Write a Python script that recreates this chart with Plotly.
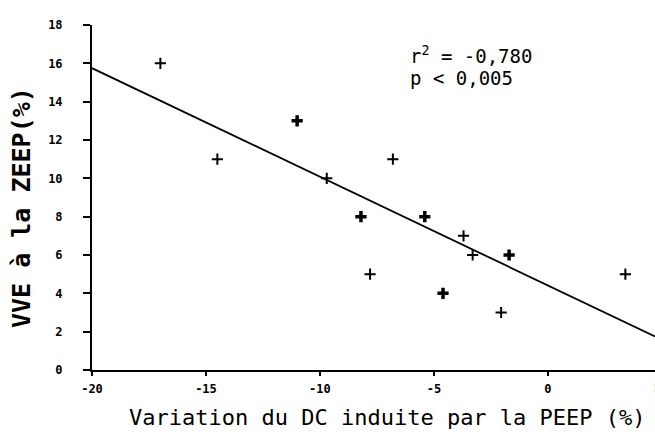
import plotly.graph_objects as go

# Data
x_points = [-17.0, -14.5, -9.7, -6.8, -3.7, -3.3, -7.8, -2.05, 3.4]
y_points = [16, 11, 10, 11, 7, 6, 5, 3, 5]
x_bold = [-11.0, -8.2, -5.4, -1.7, -4.6]
y_bold = [13, 8, 8, 6, 4]
fit_x = [-20, 4.7]
fit_y = [15.75, 1.75]
x_ticks = [-20, -15, -10, -5, 0]
y_ticks = [0, 2, 4, 6, 8, 10, 12, 14, 16, 18]

FONT = "DejaVu Sans Mono"

fig = go.Figure()
fig.add_trace(go.Scatter(x=fit_x, y=fit_y, mode="lines",
                         line=dict(color="black", width=1.8), hoverinfo="skip"))
fig.add_trace(go.Scatter(x=x_points, y=y_points, mode="markers",
                         marker=dict(symbol="cross-thin", size=8,
                                     line=dict(color="black", width=2))))
fig.add_trace(go.Scatter(x=x_bold, y=y_bold, mode="markers",
                         marker=dict(symbol="cross-thin", size=8,
                                     line=dict(color="black", width=3.5))))

fig.update_layout(
    width=655, height=437,
    margin=dict(l=92, r=0, t=25, b=67),
    paper_bgcolor="white", plot_bgcolor="white",
    showlegend=False,
    font=dict(family=FONT, color="black"),
    xaxis=dict(range=[-20, 4.7], tickvals=x_ticks, ticktext=[str(v) for v in x_ticks],
               showline=True, linecolor="black", linewidth=2, showgrid=False,
               zeroline=False, ticks="outside", ticklen=4, tickwidth=2,
               tickcolor="black", tickfont=dict(size=12, family=FONT, weight="bold"),
               ticklabelstandoff=3),
    yaxis=dict(range=[0, 18], tickvals=y_ticks, ticktext=[str(v) for v in y_ticks],
               showline=True, linecolor="black", linewidth=2, showgrid=False,
               zeroline=False, ticks="outside", ticklen=7, tickwidth=2,
               tickcolor="black", tickfont=dict(size=12, family=FONT, weight="bold"),
               ticklabelstandoff=18),
    annotations=[
        dict(text="r<sup>2</sup> = -0,780", xref="paper", yref="paper",
             x=0.561, y=0.913, xanchor="left", yanchor="middle", showarrow=False,
             font=dict(size=19, family=FONT)),
        dict(text="p < 0,005", xref="paper", yref="paper",
             x=0.561, y=0.846, xanchor="left", yanchor="middle", showarrow=False,
             font=dict(size=19, family=FONT)),
        dict(text="Variation du DC induite par la PEEP (%)", xref="paper", yref="paper",
             x=0.524, y=-0.139, xanchor="center", yanchor="middle", showarrow=False,
             font=dict(size=22, family=FONT)),
        dict(text="VVE à la ZEEP(%)", xref="paper", yref="paper",
             x=-0.124, y=0.47, xanchor="center", yanchor="middle", showarrow=False,
             textangle=-90, font=dict(size=25, family=FONT, weight="bold")),
        dict(text="5", xref="x", yref="paper", x=4.57, y=-0.052,
             xanchor="left", yanchor="middle", showarrow=False,
             font=dict(size=12, family=FONT, weight="bold")),
    ],
)

fig.write_html("out.html")
